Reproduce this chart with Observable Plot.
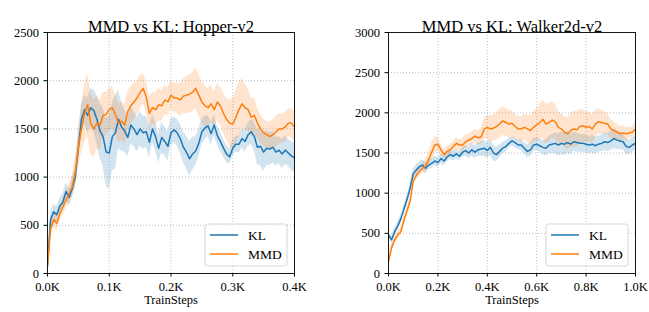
<!DOCTYPE html>
<html>
<head>
<meta charset="utf-8">
<script src="https://cdn.jsdelivr.net/npm/d3@7"></script>
<script src="https://cdn.jsdelivr.net/npm/@observablehq/plot@0.6"></script>
<style>
  html, body { margin: 0; padding: 0; background: white; }
  #wrap { display: flex; width: 649px; height: 312px; }
</style>
</head>
<body>
<div id="wrap"></div>
<script>
// ---------- data ----------
const seriesNames = ["KL", "MMD"];
const seriesColors = ["#1f77b4", "#ff7f0e"];

// Hopper-v2 (sampled every 5 steps, 0..400)
const hopperStep = 5;
const hopperKL = [80,560,640,610,700,740,850,790,880,1000,
  1300,1600,1700,1640,1720,1690,1600,1480,1420,1260,
  1250,1420,1460,1600,1520,1480,1410,1540,1500,1440,
  1500,1460,1470,1360,1500,1420,1300,1410,1370,1320,
  1460,1490,1460,1400,1310,1260,1190,1240,1270,1350,
  1470,1510,1530,1450,1540,1430,1370,1300,1240,1210,
  1300,1340,1340,1400,1370,1440,1470,1420,1310,1320,
  1260,1300,1290,1310,1260,1280,1240,1280,1250,1220,1200];
const hopperMMD = [70,460,560,520,620,690,760,830,900,1050,
  1300,1500,1660,1750,1560,1500,1560,1540,1640,1650,
  1700,1720,1650,1560,1580,1540,1680,1740,1780,1820,
  1880,1920,1830,1660,1720,1700,1750,1740,1800,1780,
  1850,1820,1820,1800,1840,1850,1860,1880,1920,1850,
  1780,1740,1720,1760,1700,1780,1740,1660,1600,1560,
  1550,1620,1700,1760,1720,1700,1620,1640,1560,1500,
  1460,1440,1420,1440,1470,1500,1500,1520,1560,1560,1520];
const hopperKLSpread = [60,70,80,80,80,90,90,90,100,
  120,130,150, 150,180,200,220, 250,280,300,350,380,
  350,380,300, 250,220,200,200,180,180,180,
  170,160,160,150,150,150,160,150,150,140,
  130,140,150,160,170,180,170,150,
  140,130,120,110,120,110,100,100,
  90,90,80,80,80,90,100,110,
  120,130,150,180,200,200,180,170,
  160,150,140,150,150,140,150,150];
const hopperMMDSpread = [60,80,80,80,80,90,90,100,100,
  150,200,250, 300,330,320,300, 280,260,240,230,220,
  220,210,200, 200,210,200,200,190,180,170,
  160,160,170,160,170,170,160,150,150,150,
  150,160,170,180,190,200,200,210,
  220,220,210,200,190,180,190,200,
  210,220,240,260,280,280,260,240,
  220,200,180,160,150,140,140,150,
  150,160,160,150,150,140,150,160];

// Walker2d-v2 (sampled every 12.5 steps, 0..1000)
const walkerStep = 12.5;
const walkerKL = [480,420,520,590,680,800,920,1060,1240,1290,
  1330,1350,1310,1350,1370,1400,1380,1430,1400,1450,
  1480,1460,1490,1460,1510,1530,1500,1540,1510,1540,
  1550,1560,1530,1570,1500,1480,1520,1560,1580,1620,
  1650,1630,1600,1600,1560,1520,1540,1600,1610,1590,
  1570,1560,1600,1610,1620,1600,1620,1610,1630,1610,
  1640,1630,1620,1620,1610,1600,1610,1590,1610,1620,
  1640,1630,1650,1680,1660,1650,1640,1580,1570,1600,1620];
const walkerMMD = [150,320,420,480,520,660,780,900,1150,1220,
  1270,1310,1340,1420,1510,1600,1610,1540,1480,1520,
  1540,1580,1620,1600,1600,1640,1660,1680,1710,1690,
  1700,1800,1820,1800,1810,1830,1860,1900,1880,1860,
  1870,1830,1800,1800,1820,1800,1780,1820,1850,1880,
  1920,1860,1880,1910,1890,1820,1800,1760,1740,1780,
  1800,1790,1830,1840,1820,1830,1800,1860,1890,1880,
  1870,1860,1800,1780,1760,1740,1750,1740,1750,1760,1800];
const walkerKLSpread = [40,40,50,50,50,50,50,60,60,
  60,60,70,70,60,60,60,60,
  60,60,60,60,60,60,60,60,
  70,70,80,80,80,90,100,100,
  100,100,90,80,70,70,60,60,
  60,60,70,70,80,80,80,80,
  80,90,100,110,120,130,140,140,
  140,130,130,120,120,110,110,110,
  110,110,110,100,100,110,110,120,
  120,120,110,100,100,90,90,90];
const walkerMMDSpread = [60,60,60,50,50,50,50,50,50,
  60,60,60,70,90,110,100,90,
  70,60,60,60,60,70,70,80,
  80,80,80,80,90,100,130,150,
  160,160,170,180,180,170,170,160,
  160,150,150,160,170,180,190,200,
  220,240,250,240,230,220,200,190,
  190,200,210,220,220,210,200,190,
  190,180,170,160,150,140,130,120,
  110,100,90,90,80,70,70,80];

const hopperXTicks = [0, 100, 200, 300, 400];
const hopperYTicks = [0, 500, 1000, 1500, 2000, 2500];
const walkerXTicks = [0, 200, 400, 600, 800, 1000];
const walkerYTicks = [0, 500, 1000, 1500, 2000, 2500, 3000];

// ---------- helpers ----------
const FONT = "'Liberation Serif', 'Times New Roman', serif";
const kFmt = d => (d / 1000).toFixed(1) + "K";
const yFmt = d => String(d);

function buildRows(step, series, spreads) {
  const rows = [];
  series.forEach((vals, si) => {
    vals.forEach((v, i) => {
      const s = spreads[si][i];
      rows.push({x: i * step, v, lo: v - s, hi: v + s, name: seriesNames[si]});
    });
  });
  return rows;
}

function chart({title, step, series, spreads, xMax, yMax, xTicks, yTicks, width, ml, mr}) {
  const rows = buildRows(step, series, spreads);
  const grid = {stroke: "#b0b0b0", strokeOpacity: 1, strokeWidth: 0.8, strokeDasharray: "1,2"};
  const plot = Plot.plot({
    width, height: 312,
    marginTop: 32, marginBottom: 39, marginLeft: ml, marginRight: mr,
    style: {fontFamily: FONT, fontSize: "12px", color: "black", background: "white", overflow: "visible"},
    x: {domain: [0, xMax]},
    y: {domain: [0, yMax]},
    color: {domain: seriesNames, range: seriesColors},
    marks: [
      Plot.gridX(xTicks, grid),
      Plot.gridY(yTicks, grid),
      Plot.areaY(rows, {x: "x", y1: "lo", y2: "hi", z: "name", fill: "name", fillOpacity: 0.2, clip: true}),
      Plot.lineY(rows, {x: "x", y: "v", z: "name", stroke: "name", strokeWidth: 1.5, clip: true}),
      Plot.frame({stroke: "black", strokeWidth: 0.9}),
      Plot.axisX(xTicks, {tickSize: 3.5, tickPadding: 5, tickFormat: kFmt, label: null, fontSize: 12.5}),
      Plot.axisY(yTicks, {tickSize: 3.5, tickPadding: 5, tickFormat: yFmt, label: null, fontSize: 12.5}),
      Plot.text([title], {frameAnchor: "top", dy: -12, fontSize: 16.5, fill: "black"}),
      Plot.text(["TrainSteps"], {frameAnchor: "bottom", dy: 30, fontSize: 12.5, fill: "black"})
    ]
  });
  // legend (inside, lower right)
  const svg = d3.select(plot);
  const bw = 82, bh = 42;
  const bx = width - mr - 7 - bw, by = 273 - 7 - bh;
  const g = svg.append("g").attr("font-family", FONT).attr("font-size", 13.5).attr("text-anchor", "start");
  g.append("rect").attr("x", bx).attr("y", by).attr("width", bw).attr("height", bh)
    .attr("rx", 2.5).attr("fill", "white").attr("fill-opacity", 0.8)
    .attr("stroke", "#cccccc").attr("stroke-width", 0.8);
  seriesNames.forEach((n, i) => {
    const yy = by + 11 + i * 19;
    g.append("line").attr("x1", bx + 5).attr("x2", bx + 33).attr("y1", yy).attr("y2", yy)
      .attr("stroke", seriesColors[i]).attr("stroke-width", 1.5);
    g.append("text").attr("x", bx + 43).attr("y", yy).attr("dy", "0.35em")
      .attr("text-anchor", "start").attr("fill", "black").text(n);
  });
  return plot;
}

const wrap = document.getElementById("wrap");
wrap.appendChild(chart({
  title: "MMD vs KL: Hopper-v2", step: hopperStep,
  series: [hopperKL, hopperMMD], spreads: [hopperKLSpread, hopperMMDSpread],
  xMax: 400, yMax: 2500, xTicks: hopperXTicks, yTicks: hopperYTicks,
  width: 320, ml: 47, mr: 26
}));
wrap.appendChild(chart({
  title: "MMD vs KL: Walker2d-v2", step: walkerStep,
  series: [walkerKL, walkerMMD], spreads: [walkerKLSpread, walkerMMDSpread],
  xMax: 1000, yMax: 3000, xTicks: walkerXTicks, yTicks: walkerYTicks,
  width: 329, ml: 68, mr: 14
}));
</script>
</body>
</html>
